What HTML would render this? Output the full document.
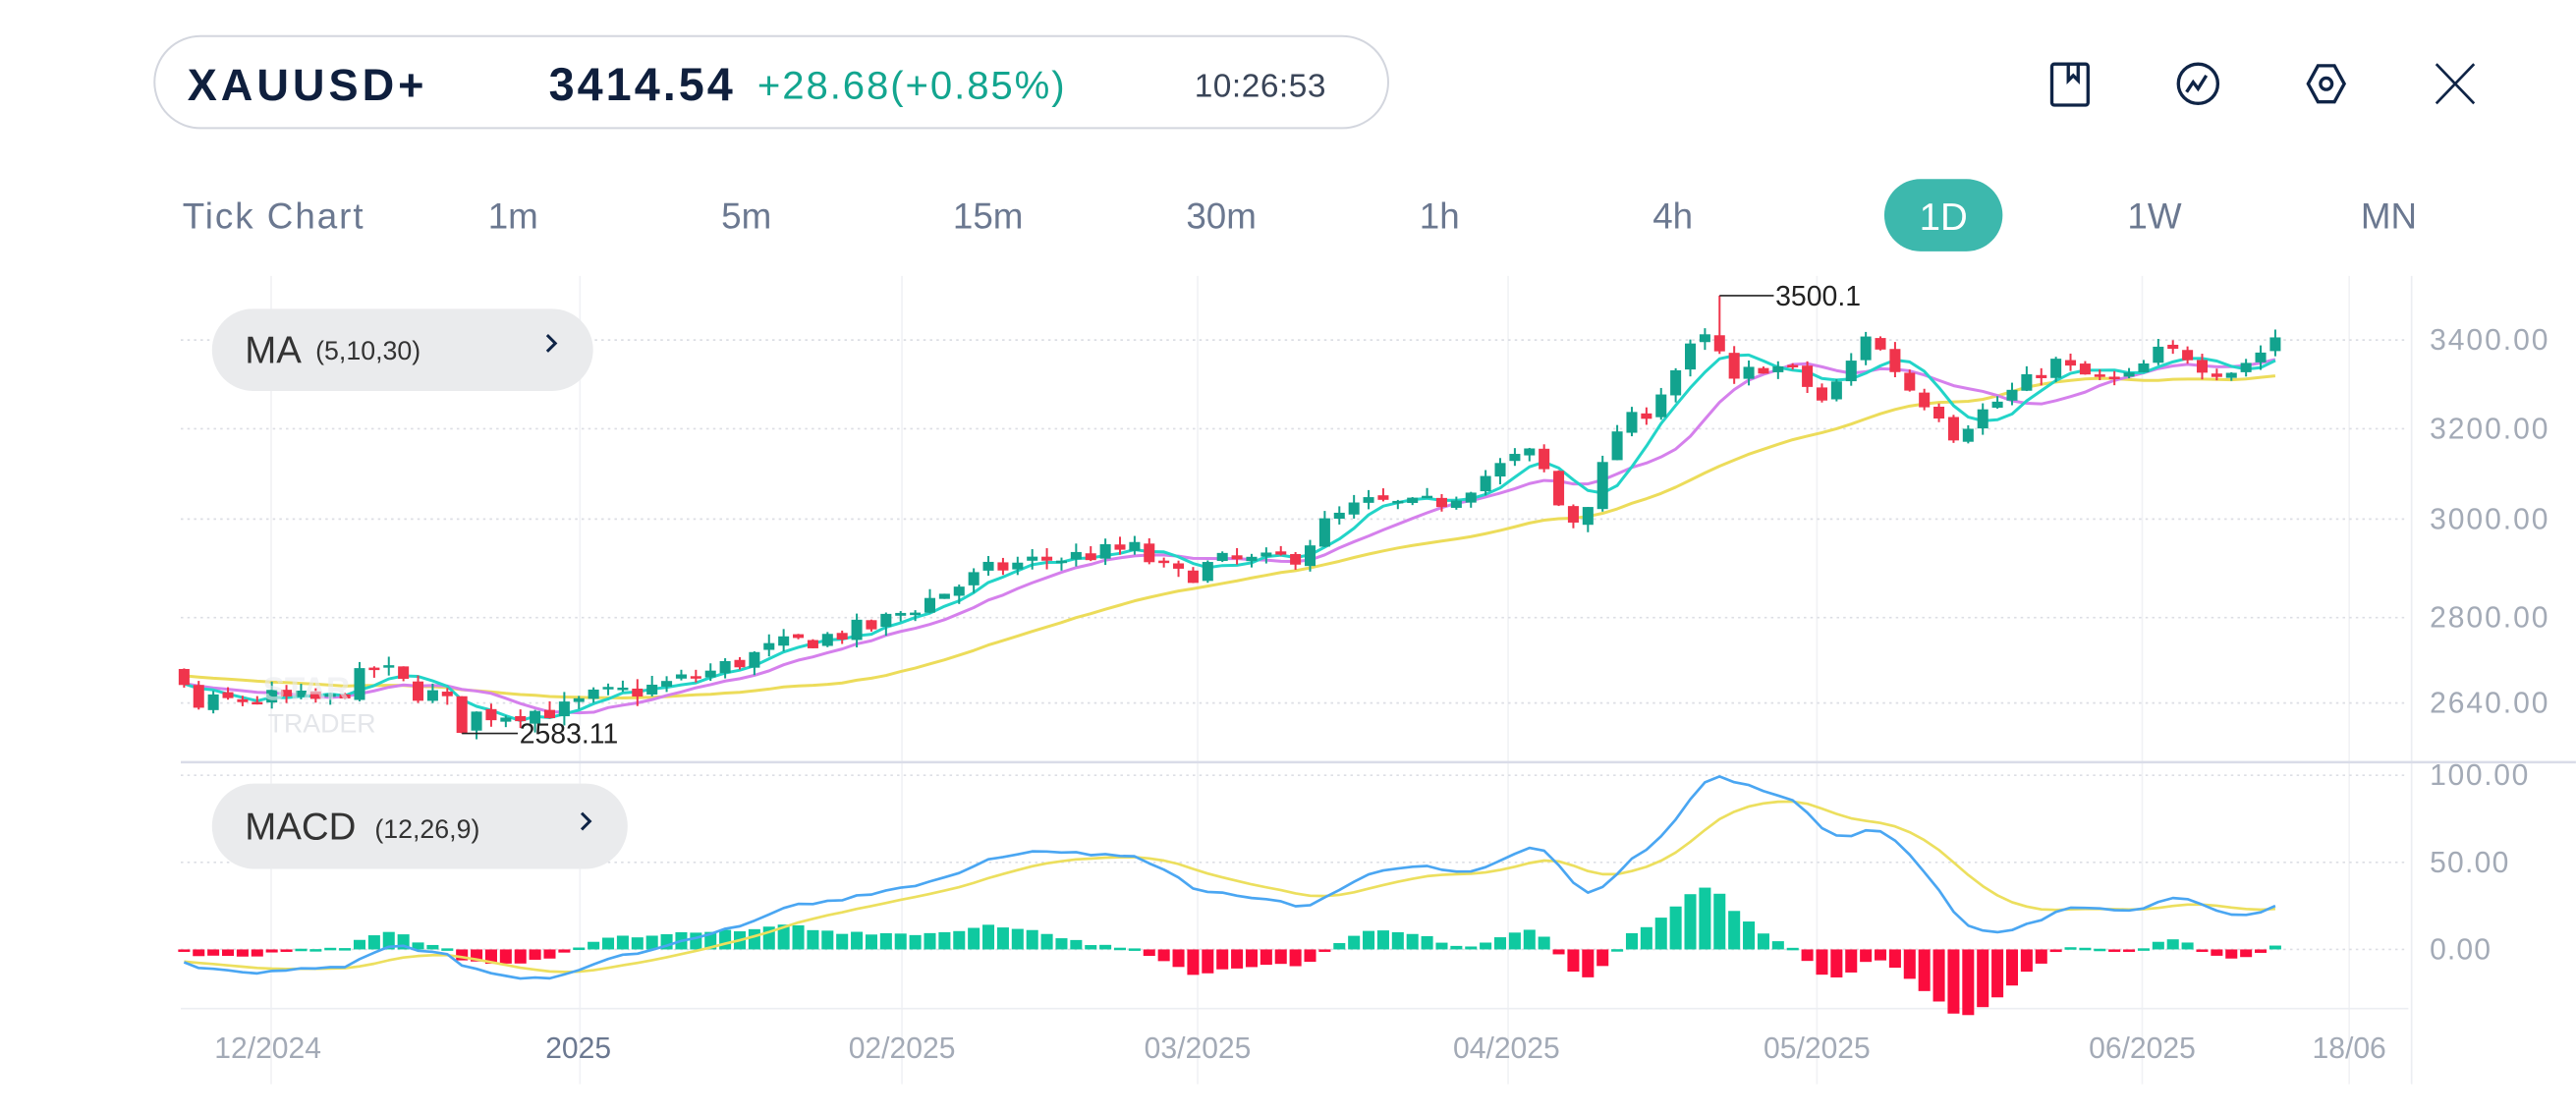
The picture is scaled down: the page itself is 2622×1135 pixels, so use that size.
<!DOCTYPE html>
<html><head><meta charset="utf-8"><style>
html,body{margin:0;padding:0;background:#fff;width:2622px;height:1135px;overflow:hidden}
svg{display:block}
text{font-family:"Liberation Sans",sans-serif}
</style></head><body>
<svg id="s" width="2622" height="1135" viewBox="0 0 1568 678.8" xmlns="http://www.w3.org/2000/svg">
<rect x="94" y="22" width="751" height="56" rx="28" fill="#fff" stroke="#d3d6de" stroke-width="1.2"/>
<text x="114" y="61" font-size="27" font-weight="bold" fill="#0f1f3d" textLength="144">XAUUSD+</text>
<text x="334" y="61" font-size="28" font-weight="bold" fill="#0f1f3d" textLength="112">3414.54</text>
<text x="461" y="60" font-size="24" fill="#13a58f" textLength="187">+28.68(+0.85%)</text>
<text x="727" y="59" font-size="20" fill="#3a4558" textLength="80">10:26:53</text>
<g fill="none" stroke="#0f2446" stroke-width="2">
<rect x="1249" y="39" width="22" height="25" rx="1.5"/><path d="M1259 39 v10 l3 -3 l3 3 v-10"/>
<circle cx="1338" cy="51" r="12"/><path d="M1331 56 l4 -6 l3 4 l5 -8"/>
<path d="M1411 40 h10 l6 11 l-6 11 h-10 l-6 -11 z"/><circle cx="1416" cy="51" r="3.5"/>
<path d="M1483 39 l23 24 M1506 39 l-23 24" stroke-width="1.6"/>
</g>
<g font-size="22" fill="#6b7890">
<text x="111" y="139" textLength="110">Tick Chart</text><text x="297" y="139">1m</text><text x="439" y="139">5m</text>
<text x="580" y="139">15m</text><text x="722" y="139">30m</text><text x="864" y="139">1h</text>
<text x="1006" y="139">4h</text><text x="1295" y="139">1W</text><text x="1437" y="139">MN</text>
</g>
<rect x="1147" y="109" width="72" height="44" rx="22" fill="#3db8ad"/>
<text x="1183" y="140" font-size="23" fill="#fff" text-anchor="middle">1D</text>
<g id="grid"></g>
<g id="plot"></g>
<rect x="129" y="188" width="232" height="50" rx="25" fill="#eaebed"/>
<text x="149" y="221" font-size="23" fill="#333">MA</text><text x="192" y="219" font-size="16" fill="#333">(5,10,30)</text>
<path d="M333 204 l5 5 l-5 5" stroke="#0f2446" stroke-width="1.8" fill="none"/>
<rect x="129" y="477" width="253" height="52" rx="26" fill="#eaebed"/>
<text x="149" y="511" font-size="23" fill="#333">MACD</text><text x="228" y="510" font-size="16" fill="#333">(12,26,9)</text>
<path d="M354 495 l5 5 l-5 5" stroke="#0f2446" stroke-width="1.8" fill="none"/>
<text x="163" y="446" font-size="16" fill="#e4e6ea">TRADER</text>
<text x="160" y="426" font-size="20" fill="#e8eaee" font-weight="bold" opacity="0.6">STAR</text>
</svg>
<script>
var s=document.getElementById('s'),NS='http://www.w3.org/2000/svg';
function el(p,t,a){var e=document.createElementNS(NS,t);for(var k in a)e.setAttribute(k,a[k]);p.appendChild(e);return e;}
var G=document.getElementById('grid'),P=document.getElementById('plot');
[165,353,549,729,918,1106,1304,1430].forEach(function(x){el(G,'line',{x1:x,y1:168,x2:x,y2:660,stroke:'#f1f2f5','stroke-width':1});});
el(G,'line',{x1:1468,y1:168,x2:1468,y2:660,stroke:'#eceef2','stroke-width':1});
var yl=[[3400,207,'3400.00'],[3200,261,'3200.00'],[3000,316,'3000.00'],[2800,376,'2800.00'],[2640,428,'2640.00']];
yl.forEach(function(a){el(G,'line',{x1:110,y1:a[1],x2:1466,y2:a[1],stroke:'#dcdee4','stroke-dasharray':'1.5 2.5','stroke-width':1});
var t=el(G,'text',{x:1479,y:a[1]+6,'font-size':18,fill:'#a3aab6',textLength:72});t.textContent=a[2];});
el(G,'line',{x1:110,y1:464,x2:1568,y2:464,stroke:'#d9dce8','stroke-width':1.5});
[[472,'100.00',60],[525,'50.00',48],[578,'0.00',37]].forEach(function(a){el(G,'line',{x1:110,y1:a[0],x2:1466,y2:a[0],stroke:'#dcdee4','stroke-dasharray':'1.5 2.5','stroke-width':1});
var t=el(G,'text',{x:1479,y:a[0]+6,'font-size':18,fill:'#a3aab6',textLength:a[2]});t.textContent=a[1];});
el(G,'line',{x1:110,y1:614,x2:1466,y2:614,stroke:'#eceef2','stroke-width':1});
[[163,'12/2024'],[352,'2025'],[549,'02/2025'],[729,'03/2025'],[917,'04/2025'],[1106,'05/2025'],[1304,'06/2025'],[1430,'18/06']].forEach(function(a){
var t=el(G,'text',{x:a[0],y:644,'font-size':18,fill:a[1]=='2025'?'#6b7890':'#a3aab6','text-anchor':'middle'});t.textContent=a[1];});
var pts=[[3600,153],[3400,207],[3200,261],[3000,316],[2800,376],[2640,428],[2400,506]];
function p2y(p){for(var i=0;i<pts.length-1;i++){var a=pts[i],b=pts[i+1];if(p<=a[0]&&p>=b[0]||i==pts.length-2){return a[1]+(p-a[0])*(b[1]-a[1])/(b[0]-a[0]);}}return pts[0][1]+(p-pts[0][0])*(pts[1][1]-pts[0][1])/(pts[1][0]-pts[0][0]);}
function y2p(y){var q=pts;for(var i=0;i<q.length-1;i++){var a=q[i],b=q[i+1];if(y>=a[1]&&y<=b[1]||i==q.length-2)return a[0]+(y-a[1])*(b[0]-a[0])/(b[1]-a[1]);}return q[0][0];}
var path=[[112,420],[120,432],[130,428],[160,425],[200,427],[230,405],[250,420],[270,425],[280,442],[290,435],[320,433],[345,432],[360,425],[400,418],[430,410],[470,395],[500,388],[530,382],[555,370],[580,358],[600,348],[625,342],[660,338],[690,334],[705,345],[720,352],[740,342],[770,342],[790,338],[805,320],[830,306],[860,308],[880,305],[900,292],[920,280],[935,275],[945,300],[955,320],[970,300],[985,260],[1000,253],[1020,225],[1035,205],[1045,212],[1055,235],[1070,222],[1090,225],[1100,235],[1110,245],[1125,225],[1135,202],[1150,220],[1165,240],[1180,250],[1190,265],[1200,255],[1215,245],[1235,232],[1250,220],[1265,228],[1285,232],[1300,230],[1310,215],[1330,215],[1345,225],[1360,225],[1375,215],[1385,205]];
function py(x){for(var i=0;i<path.length-1;i++){var a=path[i],b=path[i+1];if(x>=a[0]&&x<=b[0])return a[1]+(x-a[0])*(b[1]-a[1])/(b[0]-a[0]);}return path[path.length-1][1];}
var seed=7;function rnd(){seed=(seed*16807)%2147483647;return seed/2147483647;}
var N=144,dx=(1385-112)/(N-1),W=40,closes=[],c=[];
for(var i=0;i<W;i++)closes.push(2720-i*1.2+(rnd()-0.5)*30);
var prev=2700;
for(var i=0;i<N;i++){var x=112+i*dx;var cl=y2p(py(x))+(rnd()-0.5)*40;var op=prev+(rnd()-0.5)*10;
var hi=Math.max(op,cl)+rnd()*18,lo=Math.min(op,cl)-rnd()*18;c.push({x:x,o:op,c:cl,h:hi,l:lo});closes.push(cl);prev=cl;}
var ih=Math.round((1043-112)/dx);c[ih].h=3500.1;var il=Math.round((280-112)/dx);c[il].l=2583.11;
function ma(n,i){var s=0;for(var k=i-n+1;k<=i;k++)s+=closes[k];return s/n;}
function line(arr,col,w,g){el(g||P,'polyline',{points:arr.map(function(p){return p[0].toFixed(1)+','+p[1].toFixed(1)}).join(' '),fill:'none',stroke:col,'stroke-width':w,'stroke-linejoin':'round'});}
var e12=closes[0],e26=closes[0],sig=0,M=[];
for(var i=0;i<closes.length;i++){e12=e12+(closes[i]-e12)*2/13;e26=e26+(closes[i]-e26)*2/27;var m=e12-e26;sig=sig+(m-sig)*2/10;M.push([m,sig]);}
for(var i=0;i<N;i++){var d=(M[i+W][0]-M[i+W][1])*1.3,x=c[i].x,h=d*1.06;
el(P,'rect',{x:x-3.6,y:h>0?578-h:578,width:7.2,height:Math.max(Math.abs(h),1.5),fill:d>=0?'#0fc9a0':'#fb0c3d'});}
var ml=[],sl=[];for(var i=0;i<N;i++){ml.push([c[i].x,578-M[i+W][0]*1.06]);sl.push([c[i].x,578-M[i+W][1]*1.06]);}
line(sl,'#ecdf5e',1.6);line(ml,'#4aa6f2',1.6);
var m30=[],m10=[],m5=[];for(var i=0;i<N;i++){m30.push([c[i].x,p2y(ma(30,i+W))]);m10.push([c[i].x,p2y(ma(10,i+W))]);m5.push([c[i].x,p2y(ma(5,i+W))]);}
line(m30,'#ecdc5a',1.8);line(m10,'#d580ec',1.8);line(m5,'#22d4c8',1.8);
c.forEach(function(k){var col=k.c>=k.o?'#12a38e':'#f0344c';
el(P,'line',{x1:k.x,y1:p2y(k.h),x2:k.x,y2:p2y(k.l),stroke:col,'stroke-width':1.2});
var y1=p2y(Math.max(k.o,k.c)),y2=p2y(Math.min(k.o,k.c));el(P,'rect',{x:k.x-3.3,y:y1,width:6.6,height:Math.max(y2-y1,1.5),fill:col});});
var hx=c[ih].x,hy=p2y(3500.1);el(P,'line',{x1:hx,y1:hy,x2:hx+33,y2:hy,stroke:'#222','stroke-width':1});
var t=el(P,'text',{x:hx+34,y:hy+6,'font-size':17,fill:'#222'});t.textContent='3500.1';
var lx=c[il].x,ly=p2y(2583.11);el(P,'line',{x1:lx,y1:ly,x2:lx+34,y2:ly,stroke:'#222','stroke-width':1});
t=el(P,'text',{x:lx+35,y:ly+6,'font-size':17,fill:'#222'});t.textContent='2583.11';
</script>
</body></html>
